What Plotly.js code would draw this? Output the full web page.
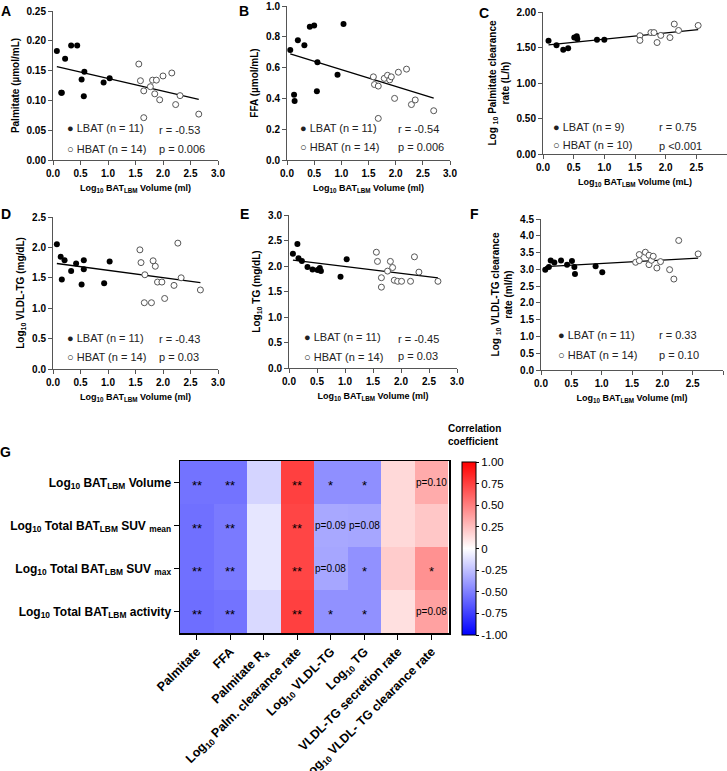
<!DOCTYPE html>
<html><head><meta charset="utf-8">
<script src="https://cdn.plot.ly/plotly-3.0.1.min.js"></script>
<style>body{margin:0;background:#fff}#chart{width:727px;height:771px}</style>
</head><body><div id="chart"></div><script>
// ---------- DATA ----------
// Panel A: Palmitate
const aLx = [0.07, 0.15, 0.16, 0.22, 0.33, 0.44, 0.52, 0.57, 0.56, 0.92, 1.03];
const aLy = [0.183, 0.113, 0.113, 0.170, 0.192, 0.192, 0.135, 0.148, 0.107, 0.130, 0.137];
const aHx = [1.56, 1.59, 1.65, 1.65, 1.77, 1.81, 1.88, 1.85, 1.94, 2.00, 2.16, 2.23, 2.31, 2.65];
const aHy = [0.161, 0.133, 0.116, 0.071, 0.123, 0.134, 0.134, 0.111, 0.101, 0.141, 0.146, 0.093, 0.108, 0.077];
// Panel B: FFA
const bLx = [0.06, 0.13, 0.14, 0.20, 0.32, 0.42, 0.50, 0.55, 0.56, 0.93, 1.04];
const bLy = [0.714, 0.424, 0.383, 0.777, 0.745, 0.866, 0.874, 0.446, 0.634, 0.554, 0.883];
const bHx = [1.59, 1.61, 1.68, 1.68, 1.79, 1.85, 1.89, 1.92, 1.98, 2.05, 2.20, 2.29, 2.36, 2.70];
const bHy = [0.54, 0.49, 0.48, 0.27, 0.53, 0.55, 0.52, 0.54, 0.40, 0.57, 0.59, 0.36, 0.39, 0.32];
// Panel C: Log10 palmitate clearance rate
const cLx = [0.09, 0.22, 0.33, 0.41, 0.51, 0.55, 0.56, 0.88, 1.00];
const cLy = [1.595, 1.53, 1.47, 1.49, 1.64, 1.66, 1.62, 1.61, 1.61];
const cHx = [1.58, 1.58, 1.76, 1.81, 1.86, 1.92, 2.07, 2.14, 2.21, 2.53];
const cHy = [1.666, 1.60, 1.71, 1.71, 1.57, 1.67, 1.64, 1.83, 1.74, 1.81];
// Panel D: Log10 VLDL-TG
const dLx = [0.07, 0.14, 0.16, 0.21, 0.33, 0.42, 0.52, 0.56, 0.56, 0.93, 1.03];
const dLy = [2.05, 1.845, 1.47, 1.79, 1.61, 1.735, 1.39, 1.79, 1.64, 1.41, 1.77];
const dHx = [1.58, 1.60, 1.66, 1.67, 1.79, 1.82, 1.86, 1.90, 1.98, 2.03, 2.20, 2.27, 2.33, 2.68];
const dHy = [1.96, 1.75, 1.09, 1.55, 1.09, 1.78, 1.69, 1.43, 1.43, 1.16, 1.375, 2.07, 1.50, 1.30];
// Panel E: Log10 TG
const eLx = [0.07, 0.15, 0.17, 0.23, 0.33, 0.42, 0.51, 0.55, 0.57, 0.92, 1.03];
const eLy = [2.24, 2.43, 2.15, 2.10, 1.98, 1.93, 1.92, 1.96, 1.90, 1.79, 2.13];
const eHx = [1.56, 1.58, 1.65, 1.65, 1.76, 1.81, 1.85, 1.88, 1.94, 2.01, 2.17, 2.24, 2.32, 2.66];
const eHy = [2.27, 2.09, 1.77, 1.585, 1.90, 2.09, 1.97, 1.72, 1.70, 1.70, 1.70, 2.18, 1.88, 1.70];
// Panel F: Log10 VLDL-TG clearance rate
const fLx = [0.07, 0.13, 0.16, 0.22, 0.33, 0.43, 0.51, 0.55, 0.56, 0.90, 1.01];
const fLy = [2.99, 3.07, 3.26, 3.20, 3.26, 3.14, 3.25, 3.07, 2.86, 3.09, 2.91];
const fHx = [1.56, 1.62, 1.62, 1.72, 1.78, 1.78, 1.82, 1.85, 1.91, 1.97, 2.12, 2.19, 2.27, 2.59];
const fHy = [3.21, 3.44, 3.26, 3.51, 3.42, 3.14, 3.27, 3.39, 3.04, 3.23, 2.99, 2.71, 3.86, 3.46];

const panelLetters = ['A', 'B', 'C', 'D', 'E', 'F', 'G'];
const yTitles = ['Palmitate (µmol/mL)', 'FFA (µmol/mL)',
  'Log <sub>10</sub> Palmitate clearance<br>rate (L/h)',
  'Log<sub>10</sub> VLDL-TG (mg/dL)', 'Log<sub>10</sub> TG (mg/dL)',
  'Log <sub>10</sub> VLDL-TG clearance<br>rate (ml/h)'];
const xTitles = ['Log<sub>10</sub> BAT<sub>LBM</sub> Volume (ml)', 'Log<sub>10</sub> BAT<sub>LBM</sub> Volume (ml)',
  'Log<sub>10</sub> BAT<sub>LBM</sub> Volume (mL)', 'Log<sub>10</sub> BAT<sub>LBM</sub> Volume (ml)',
  'Log<sub>10</sub> BAT<sub>LBM</sub> Volume (ml)', 'Log<sub>10</sub> BAT<sub>LBM</sub> Volume (ml)'];
const lbatLabels = ['LBAT (n = 11)', 'LBAT (n = 11)', 'LBAT (n = 9)', 'LBAT (n = 11)', 'LBAT (n = 11)', 'LBAT (n = 11)'];
const hbatLabels = ['HBAT (n = 14)', 'HBAT (n = 14)', 'HBAT (n = 10)', 'HBAT (n = 14)', 'HBAT (n = 14)', 'HBAT (n = 14)'];
const rLabels = ['r = -0.53', 'r = -0.54', 'r = 0.75', 'r = -0.43', 'r = -0.45', 'r = 0.33'];
const pLabels = ['p = 0.006', 'p = 0.006', 'p <0.001', 'p = 0.03', 'p = 0.03', 'p = 0.10'];
const yMax = [0.25, 1.0, 2.0, 2.5, 3.0, 4.5];
const yStep = [0.05, 0.2, 0.5, 0.5, 0.5, 0.5];
const yFormat = ['.2f', '.1f', '.2f', '.1f', '.1f', '.1f'];

// Heatmap G
const heatRows = ['Log<sub>10</sub> BAT<sub>LBM</sub> Volume',
  'Log<sub>10</sub> Total BAT<sub>LBM</sub> SUV <sub>mean</sub>',
  'Log<sub>10</sub> Total BAT<sub>LBM</sub> SUV <sub>max</sub>',
  'Log<sub>10</sub> Total BAT<sub>LBM</sub> activity'];
const heatCols = ['Palmitate', 'FFA', 'Palmitate R<sub>a</sub>', 'Log<sub>10</sub> Palm. clearance rate',
  'Log<sub>10</sub> VLDL-TG', 'Log<sub>10</sub> TG', 'VLDL-TG secretion rate', 'Log<sub>10</sub> VLDL- TG clearance rate'];
const heatZ = [
  [-0.55, -0.55, -0.17, 0.75, -0.44, -0.44, 0.15, 0.33],
  [-0.56, -0.52, -0.10, 0.73, -0.34, -0.35, 0.15, 0.22],
  [-0.56, -0.52, -0.10, 0.73, -0.35, -0.43, 0.20, 0.43],
  [-0.57, -0.55, -0.15, 0.75, -0.43, -0.43, 0.12, 0.37]];
const heatSig = [
  ['**', '**', '', '**', '*', '*', '', 'p=0.10'],
  ['**', '**', '', '**', 'p=0.09', 'p=0.08', '', ''],
  ['**', '**', '', '**', 'p=0.08', '*', '', '*'],
  ['**', '**', '', '**', '*', '*', '', 'p=0.08']];
const cbTickVals = [-1, -0.75, -0.5, -0.25, 0, 0.25, 0.5, 0.75, 1];
const cbTickText = ['-1.00', '-0.75', '-0.50', '-0.25', '0', '0.25', '0.50', '0.75', '1.00'];
const cbTitle = 'Correlation<br>coefficient';

// ---------- LAYOUT ----------
const W = 727, H = 771;
const FONT = 'Liberation Sans, Arial, sans-serif';
const px = v => v / W;
const py = v => 1 - v / H;

const series = [[aLx, aLy, aHx, aHy], [bLx, bLy, bHx, bHy], [cLx, cLy, cHx, cHy],
  [dLx, dLy, dHx, dHy], [eLx, eLy, eHx, eHy], [fLx, fLy, fHx, fHy]];
// plot-area boxes in pixels: left, right, top, bottom
const boxes = [[53, 218, 11, 160], [287, 450, 6, 160], [543, 727, 12, 154],
  [53, 218, 217, 369], [289, 457, 215, 368], [541, 723, 219, 370]];
// legend/stat text positions: legend x, lbat y, hbat y, stat x, r y, p y
const textPos = [[65, 128, 149, 157, 130, 149], [298, 128, 147, 396, 129, 147], [551, 127, 145, 657, 127, 146],
  [65, 338, 357, 157, 339, 357], [302, 337, 357, 396, 339, 356], [556, 335, 355, 657, 335, 355]];
const letterPos = [[6, 11], [244, 11], [484, 13], [6, 214], [244, 214], [475, 214], [6, 452]];

function fit(xs, ys) {
  const n = xs.length;
  const mx = xs.reduce((a, b) => a + b, 0) / n, my = ys.reduce((a, b) => a + b, 0) / n;
  let sxy = 0, sxx = 0;
  for (let i = 0; i < n; i++) { sxy += (xs[i] - mx) * (ys[i] - my); sxx += (xs[i] - mx) ** 2; }
  const m = sxy / sxx;
  return [m, my - m * mx];
}

const traces = [];
const layout = {
  width: W, height: H, margin: {l: 0, r: 0, t: 0, b: 0},
  paper_bgcolor: '#fff', plot_bgcolor: '#fff', showlegend: false,
  font: {family: FONT, color: '#000'}, annotations: []
};

series.forEach((s, i) => {
  const k = i === 0 ? '' : String(i + 1);
  const xa = 'x' + k, ya = 'y' + k;
  const [Lx, Ly, Hx, Hy] = s;
  const allX = Lx.concat(Hx), allY = Ly.concat(Hy);
  const [m, b] = fit(allX, allY);
  const x0 = Math.min(...allX), x1 = Math.max(...allX);
  traces.push({type: 'scatter', mode: 'lines', x: [x0, x1], y: [m * x0 + b, m * x1 + b], xaxis: xa, yaxis: ya,
    line: {color: '#000', width: 1.3}, hoverinfo: 'skip'});
  traces.push({type: 'scatter', mode: 'markers', x: Lx, y: Ly, xaxis: xa, yaxis: ya,
    marker: {color: '#000', size: 6, line: {width: 0}}});
  traces.push({type: 'scatter', mode: 'markers', x: Hx, y: Hy, xaxis: xa, yaxis: ya,
    marker: {color: '#fff', size: 6, line: {color: '#555', width: 1}}});
  const bx = boxes[i];
  layout['xaxis' + k] = {
    domain: [px(bx[0]), Math.min(1, px(bx[1]))], range: [0, 3], anchor: ya,
    tickvals: [0, 0.5, 1, 1.5, 2, 2.5, 3], tickformat: '.1f',
    showgrid: false, zeroline: false, showline: true, linecolor: '#555', linewidth: 1,
    ticks: 'outside', ticklen: 4, tickcolor: '#555',
    tickfont: {size: 10, weight: 'bold', family: FONT},
    title: {text: xTitles[i], font: {size: 9, weight: 'bold', family: FONT}, standoff: 6}
  };
  const tv = [];
  for (let v = 0; v <= yMax[i] + 1e-9; v += yStep[i]) tv.push(+v.toFixed(3));
  layout['yaxis' + k] = {
    domain: [py(bx[3]), py(bx[2])], range: [0, yMax[i]], anchor: xa,
    tickvals: tv, tickformat: yFormat[i],
    showgrid: false, zeroline: false, showline: true, linecolor: '#555', linewidth: 1,
    ticks: 'outside', ticklen: 4, tickcolor: '#555',
    tickfont: {size: 10, weight: 'bold', family: FONT},
    title: {text: yTitles[i], font: {size: 10, weight: 'bold', family: FONT}, standoff: 5}
  };
  const t = textPos[i];
  const tf = {size: 11, color: '#222', family: FONT};
  layout.annotations.push(
    {xref: 'paper', yref: 'paper', x: px(t[0]), y: py(t[1]), xanchor: 'left', yanchor: 'middle', showarrow: false, text: '● ' + lbatLabels[i], font: tf},
    {xref: 'paper', yref: 'paper', x: px(t[0]), y: py(t[2]), xanchor: 'left', yanchor: 'middle', showarrow: false, text: '○ ' + hbatLabels[i], font: tf},
    {xref: 'paper', yref: 'paper', x: px(t[3]), y: py(t[4]), xanchor: 'left', yanchor: 'middle', showarrow: false, text: rLabels[i], font: tf},
    {xref: 'paper', yref: 'paper', x: px(t[3]), y: py(t[5]), xanchor: 'left', yanchor: 'middle', showarrow: false, text: pLabels[i], font: tf}
  );
});

// Heatmap
traces.push({
  type: 'heatmap', z: heatZ, x: heatCols, y: heatRows, xaxis: 'x7', yaxis: 'y7',
  zmin: -1, zmax: 1, colorscale: [[0, '#0000ff'], [0.5, '#ffffff'], [1, '#ff0000']],
  colorbar: {
    x: px(462), xanchor: 'left', xpad: 0, ypad: 0, thickness: 14,
    lenmode: 'pixels', len: 173, y: py(548.5), yanchor: 'middle',
    outlinecolor: '#000', outlinewidth: 1,
    tickvals: cbTickVals, ticktext: cbTickText, ticks: 'outside', ticklen: 3, tickcolor: '#000',
    tickfont: {size: 11.5, family: FONT, color: '#000'}
  },
  hoverinfo: 'skip'
});
layout.xaxis7 = {
  domain: [px(180), px(449)], anchor: 'y7', type: 'category',
  showgrid: false, zeroline: false, showline: true, mirror: true, linecolor: '#000', linewidth: 1.5,
  ticks: 'outside', ticklen: 5, tickcolor: '#000', tickangle: -45,
  tickfont: {size: 12.5, weight: 'bold', family: FONT}
};
layout.yaxis7 = {
  domain: [py(633), py(461)], anchor: 'x7', type: 'category', autorange: 'reversed',
  showgrid: false, zeroline: false, showline: true, mirror: true, linecolor: '#000', linewidth: 1.5,
  ticks: 'outside', ticklen: 5, tickcolor: '#000',
  tickfont: {size: 12, weight: 'bold', family: FONT}
};
heatSig.forEach((row, r) => row.forEach((s, c) => {
  if (!s) return;
  const star = s.charAt(0) === '*';
  layout.annotations.push({xref: 'x7', yref: 'y7', x: c, y: r, text: s, showarrow: false,
    yshift: star ? -3 : 0,
    font: {size: star ? 13 : 10, color: '#000', family: FONT}});
}));
layout.annotations.push({xref: 'paper', yref: 'paper', x: px(446), y: py(434.5), xanchor: 'left', yanchor: 'middle',
  align: 'left', showarrow: false, text: cbTitle, font: {size: 10, weight: 'bold', family: FONT}});

panelLetters.forEach((L, i) => {
  layout.annotations.push({xref: 'paper', yref: 'paper', x: px(letterPos[i][0]), y: py(letterPos[i][1]),
    xanchor: 'center', yanchor: 'middle', showarrow: false, text: L,
    font: {size: 14, weight: 'bold', family: FONT}});
});

Plotly.newPlot('chart', traces, layout, {staticPlot: true, displayModeBar: false});
</script></body></html>
